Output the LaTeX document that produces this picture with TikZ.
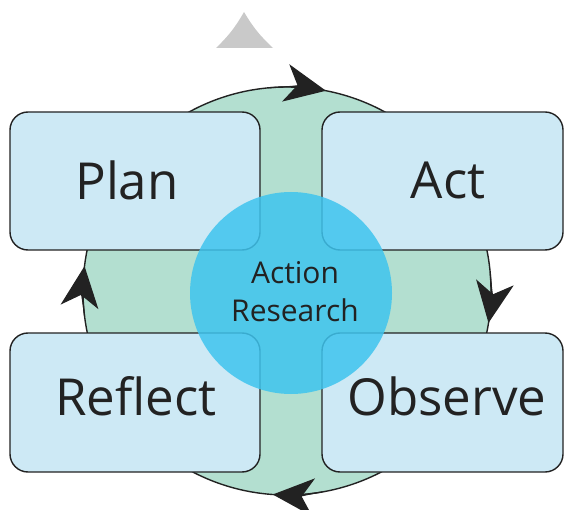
\documentclass[tikz,border=0pt]{standalone}
\usepackage{fontspec}
\setmainfont{Open Sans}
\usetikzlibrary{arrows.meta}
\definecolor{boxfill}{HTML}{CDE9F5}
\definecolor{ringfill}{HTML}{B3DFD0}
\definecolor{core}{HTML}{3EC4EE}
\definecolor{ink}{HTML}{222222}
\definecolor{tri}{HTML}{C9C9C9}
\tikzset{
  box/.style={draw=ink, line width=1.4pt, fill=boxfill, rounded corners=18pt},
  cyc/.style={draw=ink, line width=1.2pt, -{Stealth[length=41pt,width=38pt,inset=12pt]}, fill=ink},
  lbl/.style={text=ink, font=\fontsize{51}{53}\selectfont, inner sep=0pt},
  corelbl/.style={text=ink, font=\fontsize{30}{38}\selectfont, align=center, inner sep=0pt},
}
\begin{document}
\begin{tikzpicture}[x=1pt,y=-1pt]
\useasboundingbox (0,0) rectangle (564,510);
% top triangle
\fill[tri] (216,48) to[bend right=8] (244,12) to[bend right=8] (273,48) -- cycle;
% ring
\coordinate (c) at (287,291);
\draw[draw=ink, line width=1.4pt, fill=ringfill] (c) circle[radius=204pt];
% cycle arrows (canvas angles)
\draw[cyc] (c) ++(95:204pt) arc[start angle=95, end angle=79, radius=204pt];
\draw[cyc] (c) ++(5:204pt) arc[start angle=5, end angle=-9, radius=204pt];
\draw[cyc] (c) ++(-80:204pt) arc[start angle=-80, end angle=-94, radius=204pt];
\draw[cyc] (c) ++(187:204pt) arc[start angle=187, end angle=173, radius=204pt];
% boxes
\node[box, minimum width=250pt, minimum height=138pt, inner sep=0pt] (planbox) at (135,181) {};
\node[box, minimum width=241pt, minimum height=138pt, inner sep=0pt] (actbox) at (442.5,181) {};
\node[box, minimum width=250pt, minimum height=139pt, inner sep=0pt] (reflectbox) at (135,402.5) {};
\node[box, minimum width=241pt, minimum height=139pt, inner sep=0pt] (observebox) at (442.5,402.5) {};
% core
\fill[core, opacity=0.85] (c) ++(4,2) circle[radius=101pt];
\coordinate (core) at (291,293);
% labels
\node[lbl] (plan) at (127,180) {Plan};
\node[lbl] (act) at (448,180) {Act};
\node[lbl] (reflect) at (136,396) {Reflect};
\node[lbl] (observe) at (447,396) {Observe};
\node[corelbl] (ar) at (295,292) {Action\\Research};
\end{tikzpicture}
\end{document}
